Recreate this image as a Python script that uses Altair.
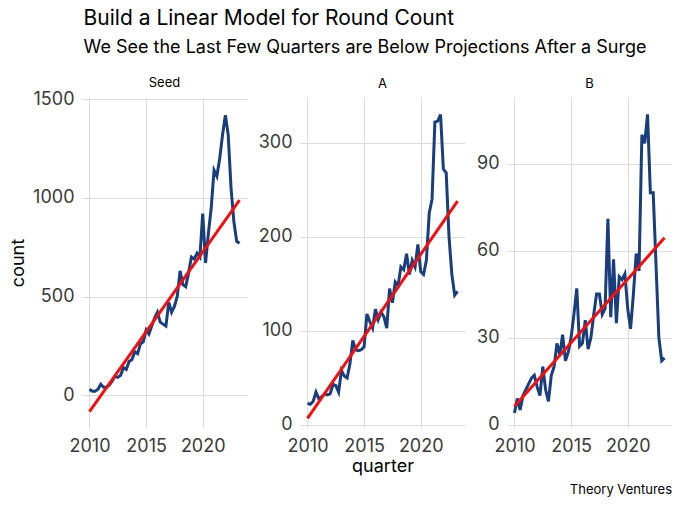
import altair as alt
import pandas as pd

# quarterly round counts, 2010Q1 .. 2023Q2
quarters = [y + q / 4 for y in range(2010, 2024) for q in range(4)][:54]

seed_counts = [30, 20, 20, 30, 55, 40, 40, 50, 70, 95, 90, 100,
               140, 130, 170, 180, 220, 210, 260, 270, 330, 310, 350, 390,
               420, 370, 360, 350, 470, 420, 450, 500, 630, 560, 550, 620,
               700, 690, 720, 700, 920, 670, 820, 950, 1140, 1110, 1200, 1320,
               1420, 1320, 1050, 880, 780, 770]
a_counts = [23, 22, 25, 35, 28, 30, 33, 32, 33, 43, 42, 35,
            58, 52, 50, 65, 90, 80, 79, 80, 83, 118, 110, 103,
            123, 112, 120, 115, 103, 145, 130, 152, 148, 168, 165, 182,
            160, 175, 168, 192, 163, 160, 175, 225, 240, 322, 323, 330,
            272, 268, 200, 160, 138, 142]
b_counts = [4, 9, 5, 10, 12, 14, 16, 17, 13, 10, 20, 12,
            8, 17, 20, 28, 24, 31, 22, 25, 30, 38, 47, 27,
            28, 36, 26, 30, 38, 45, 45, 38, 40, 71, 37, 57,
            35, 51, 50, 52, 40, 33, 45, 59, 53, 100, 97, 107,
            80, 80, 55, 30, 22, 23]

panels = ["Seed", "A", "B"]
y_ticks = {"Seed": [0, 500, 1000, 1500], "A": [0, 100, 200, 300], "B": [0, 30, 60, 90]}
y_domains = {"Seed": [-167, 1512], "A": [-3.2, 348.6], "B": [-1.2, 113]}
x_ticks = [2010, 2015, 2020]
fit_before = 2021          # model is built on the pre-surge quarters
fit_extent = [2010, 2023.25]
caption = "Theory Ventures"

_BLUE = "#1a3d7c"
_RED = "#ee1111"
_GRID = "#dcdcdc"
_FONT = "Inter"
W, H = 165, 331


def panel(name, counts):
    df = pd.DataFrame({"quarter": quarters, "count": counts})
    x = alt.X("quarter:Q",
              scale=alt.Scale(domain=[2009.34, 2023.91], nice=False, zero=False),
              axis=alt.Axis(values=x_ticks, format="d",
                            title="quarter" if name == "A" else None))
    y = alt.Y("count:Q",
              scale=alt.Scale(domain=y_domains[name], nice=False, zero=False),
              axis=alt.Axis(values=y_ticks[name], format="d",
                            title="count" if name == "Seed" else None))
    base = alt.Chart(df).encode(x=x, y=y)
    line = base.mark_line(color=_BLUE, strokeWidth=3)
    fit = base.transform_filter(f"datum.quarter < {fit_before}").transform_regression(
        "quarter", "count", extent=fit_extent).mark_line(color=_RED, strokeWidth=3)
    layers = [line, fit]
    if name == "B":
        note = alt.Chart(pd.DataFrame({"t": [caption]})).mark_text(
            align="right", baseline="middle", fontSize=13, font=_FONT, color="black"
        ).encode(text="t:N", x=alt.value(W), y=alt.value(H + 62))
        layers.append(note)
    # the Seed axis' top label already pokes above the plot, so its header sits closer
    return alt.layer(*layers).properties(
        width=W, height=H,
        title=alt.TitleParams(name, fontSize=13, fontWeight="normal",
                              font=_FONT, color="black",
                              offset=0 if name == "Seed" else 6))


chart = alt.hconcat(
    *[panel(n, c) for n, c in zip(panels, [seed_counts, a_counts, b_counts])],
    spacing=11,
).properties(
    title=alt.TitleParams(
        "Build a Linear Model for Round Count",
        subtitle="We See the Last Few Quarters are Below Projections After a Surge",
        anchor="start", font=_FONT, fontSize=21, fontWeight="normal", color="black",
        subtitleFont=_FONT, subtitleFontSize=18, subtitleColor="black",
        subtitlePadding=10, dx=74, offset=20),
    padding={"left": 1, "top": 0, "right": 0, "bottom": 0},
).configure_view(stroke=None).configure_axis(
    grid=True, gridColor=_GRID, gridWidth=1, domain=False, ticks=False,
    labelFont=_FONT, labelFontSize=18, labelColor="#3a3a3a",
    titleFont=_FONT, titleFontSize=18, titleFontWeight="normal", titleColor="black",
).configure_axisX(labelPadding=9, titlePadding=2).configure_axisY(
    labelPadding=8, titlePadding=5)

chart.save("out.html", embed_options={"renderer": "svg", "actions": False})
